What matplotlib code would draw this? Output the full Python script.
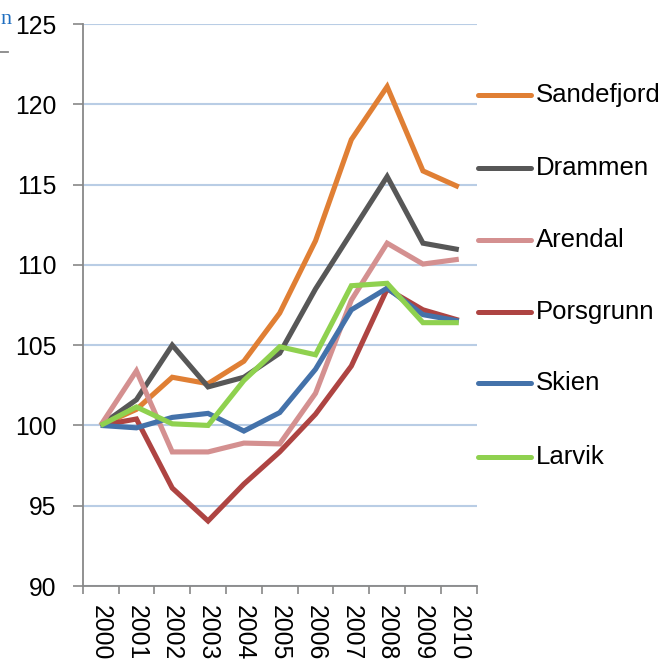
import matplotlib
matplotlib.use("Agg")
import matplotlib.pyplot as plt
from matplotlib.lines import Line2D

plt.rcParams['font.family'] = ['Liberation Sans', 'DejaVu Sans']

years = ['2000', '2001', '2002', '2003', '2004', '2005', '2006', '2007', '2008', '2009', '2010']

sandefjord = [100, 101.0, 103.0, 102.6, 104.0, 107.0, 111.5, 117.8, 121.1, 115.85, 114.85]
drammen    = [100, 101.6, 105.0, 102.4, 103.0, 104.5, 108.5, 112.0, 115.5, 111.35, 110.95]
arendal    = [100, 103.4, 98.35, 98.35, 98.9, 98.85, 102.0, 107.8, 111.35, 110.05, 110.35]
porsgrunn  = [100, 100.4, 96.1, 94.05, 96.35, 98.35, 100.7, 103.7, 108.5, 107.2, 106.55]
skien      = [100, 99.85, 100.5, 100.75, 99.65, 100.8, 103.5, 107.2, 108.55, 106.9, 106.5]
larvik     = [100, 101.15, 100.1, 100.0, 102.8, 104.9, 104.4, 108.7, 108.85, 106.4, 106.4]

names = ['Sandefjord', 'Drammen', 'Arendal', 'Porsgrunn', 'Skien', 'Larvik']
series = [sandefjord, drammen, arendal, porsgrunn, skien, larvik]
colors = ['#E07F34', '#575757', '#D49090', '#AE4442', '#4472AA', '#8FD14F']

W, H = 666, 661
fig = plt.figure(figsize=(W / 100, H / 100), dpi=100)
ax = fig.add_axes([82.7 / W, 1 - 586 / H, (476.7 - 82.7) / W, (586 - 24) / H])

x = list(range(len(years)))
for vals, c in zip(series, colors):
    ax.plot(x, vals, color=c, lw=3.7, solid_joinstyle='miter', solid_capstyle='butt', zorder=3)

ax.set_xlim(-0.5, len(years) - 0.5)
ax.set_ylim(90, 125)
ax.set_yticks(range(90, 126, 5))
ax.set_yticklabels([str(v) for v in range(90, 126, 5)], fontsize=17.8)
ax.set_xticks([i + 0.5 for i in range(-1, len(years))], minor=False)
ax.set_xticklabels([])
ax.set_xticks(x, minor=True)
ax.set_xticklabels(years, minor=True, rotation=-90, fontsize=17.8, va='top', ha='center')

ax.tick_params(axis='y', length=7, width=1.2, color='#888888', pad=12, direction='out')
ax.tick_params(axis='x', which='major', length=6, width=1.2, color='#888888', direction='out')
ax.tick_params(axis='x', which='minor', length=0, pad=14)

for s in ['top', 'right']:
    ax.spines[s].set_visible(False)
for s in ['left', 'bottom']:
    ax.spines[s].set_color('#888888')
    ax.spines[s].set_linewidth(1.3)

ax.yaxis.grid(True, color='#B9CDE5', lw=1.5, zorder=0)
ax.set_axisbelow(True)

# legend-like labels on the right
label_y = [95, 168, 240, 312, 383, 457]
for name, c, yp in zip(names, colors, label_y):
    fy = 1 - yp / H
    fig.add_artist(Line2D([478 / W, 531 / W], [fy, fy], color=c, lw=3.6,
                          solid_capstyle='round', transform=fig.transFigure))
    fig.text(536 / W, fy, name, fontsize=18.5, va='center', ha='left', color='black')

# small artifacts at top-left
fig.text(0.5 / W, 1 - 20 / H, 'n', fontsize=16, family='Liberation Serif', color='#1F6EC0',
         va='center', ha='left')
fig.add_artist(Line2D([0, 8 / W], [1 - 52 / H, 1 - 52 / H], color='#888888', lw=1.3,
                      transform=fig.transFigure))

fig.savefig('out.png', dpi=100)
